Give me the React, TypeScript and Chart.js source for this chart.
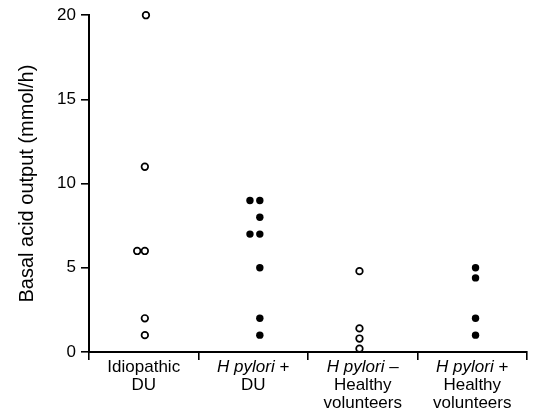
import React, { useEffect, useRef } from "react";
import { Chart, registerables } from "chart.js";

Chart.register(...registerables);

// Group labels, one entry per line; "H pylori" is set in italics
const groupLabels: string[][] = [
  ["Idiopathic", "DU"],
  ["H pylori +", "DU"],
  ["H pylori \u2013", "Healthy", "volunteers"],
  ["H pylori +", "Healthy", "volunteers"],
];

// Basal acid output (mmol/h) per subject
const idiopathicDU = [20, 11, 6, 6, 2, 1];
const hPyloriPosDU = [9, 9, 8, 7, 7, 5, 2, 1];
const hPyloriNegHealthy = [4.8, 1.4, 0.8, 0.2];
const hPyloriPosHealthy = [5, 4.4, 2, 1];

// Horizontal spread of tied values within each group (in group widths)
const idiopathicDUSpread = [0.02, 0.01, -0.06, 0.01, 0.01, 0.01];
const hPyloriPosDUSpread = [-0.03, 0.06, 0.06, -0.03, 0.06, 0.06, 0.06, 0.06];
const hPyloriNegHealthySpread = [-0.03, -0.03, -0.03, -0.03];
const hPyloriPosHealthySpread = [0.03, 0.03, 0.03, 0.03];

const yTicks = [0, 5, 10, 15, 20];

const FONT = "'Liberation Sans', Arial, Helvetica, sans-serif";

function toPoints(values: number[], spread: number[], group: number) {
  return values.map((v, i) => ({ x: group + 0.5 + spread[i], y: v }));
}

const groupLabelPlugin = {
  id: "groupLabels",
  afterDraw(chart: any) {
    const ctx = chart.ctx as CanvasRenderingContext2D;
    const xs = chart.scales.x;
    const size = 17;
    const lineGap = 18;
    const firstBaseline = chart.chartArea.bottom + 20;
    ctx.save();
    ctx.fillStyle = "#000";
    ctx.textBaseline = "alphabetic";
    ctx.textAlign = "left";
    groupLabels.forEach((lines, g) => {
      const cx = xs.getPixelForValue(g + 0.5);
      lines.forEach((line, li) => {
        const y = firstBaseline + li * lineGap;
        const italicPart = line.startsWith("H pylori") ? "H pylori" : "";
        const rest = line.slice(italicPart.length);
        ctx.font = `italic ${size}px ${FONT}`;
        const wItalic = italicPart ? ctx.measureText(italicPart).width : 0;
        ctx.font = `${size}px ${FONT}`;
        const wRest = ctx.measureText(rest).width;
        let x = cx - (wItalic + wRest) / 2;
        if (italicPart) {
          ctx.font = `italic ${size}px ${FONT}`;
          ctx.fillText(italicPart, x, y);
          x += wItalic;
        }
        ctx.font = `${size}px ${FONT}`;
        ctx.fillText(rest, x, y);
      });
    });
    ctx.restore();
  },
};

const openPoint = {
  pointStyle: "circle" as const,
  pointRadius: 3.3,
  pointBackgroundColor: "#fff",
  pointBorderColor: "#000",
  pointBorderWidth: 1.7,
  showLine: false,
  clip: false as const,
};

const filledPoint = {
  pointStyle: "circle" as const,
  pointRadius: 3.7,
  pointBackgroundColor: "#000",
  pointBorderColor: "#000",
  pointBorderWidth: 0,
  showLine: false,
  clip: false as const,
};

export default function App() {
  const canvasRef = useRef<HTMLCanvasElement | null>(null);

  useEffect(() => {
    if (!canvasRef.current) return;
    const chart = new Chart(canvasRef.current, {
      type: "scatter",
      data: {
        datasets: [
          { label: "Idiopathic DU", data: toPoints(idiopathicDU, idiopathicDUSpread, 0), ...openPoint },
          { label: "H pylori + DU", data: toPoints(hPyloriPosDU, hPyloriPosDUSpread, 1), ...filledPoint },
          { label: "H pylori - healthy volunteers", data: toPoints(hPyloriNegHealthy, hPyloriNegHealthySpread, 2), ...openPoint },
          { label: "H pylori + healthy volunteers", data: toPoints(hPyloriPosHealthy, hPyloriPosHealthySpread, 3), ...filledPoint },
        ],
      },
      options: {
        responsive: true,
        maintainAspectRatio: false,
        animation: false,
        layout: { padding: { top: 15, right: 7, left: 0, bottom: 0 } },
        plugins: {
          legend: { display: false },
          tooltip: { enabled: false },
        },
        scales: {
          x: {
            type: "linear",
            min: 0,
            max: groupLabels.length,
            afterBuildTicks: (s: any) => {
              s.ticks = groupLabels.map((_, i) => ({ value: i })).concat([{ value: groupLabels.length }]);
            },
            afterFit: (s: any) => {
              s.height = 58;
            },
            ticks: { display: false },
            grid: {
              display: true,
              drawOnChartArea: false,
              drawTicks: true,
              tickLength: 8,
              color: "#000",
              lineWidth: 1.6,
            },
            border: { display: true, color: "#000", width: 2 },
          },
          y: {
            type: "linear",
            min: 0,
            max: 20,
            afterBuildTicks: (s: any) => {
              s.ticks = yTicks.map((v) => ({ value: v }));
            },
            afterFit: (s: any) => {
              s.width = 89;
            },
            ticks: {
              color: "#000",
              padding: 5,
              font: { family: FONT, size: 17 },
            },
            grid: {
              display: true,
              drawOnChartArea: false,
              drawTicks: true,
              tickLength: 8,
              color: "#000",
              lineWidth: 1.6,
            },
            border: { display: true, color: "#000", width: 2 },
            title: {
              display: true,
              text: "Basal acid output (mmol/h)",
              color: "#000",
              font: { family: FONT, size: 20 },
              padding: { top: 15, bottom: 0 },
            },
          },
        },
      },
      plugins: [groupLabelPlugin],
    });
    return () => chart.destroy();
  }, []);

  return (
    <div style={{ position: "fixed", left: 0, top: 0, width: 534, height: 410, background: "#fff" }}>
      <canvas ref={canvasRef} />
    </div>
  );
}
